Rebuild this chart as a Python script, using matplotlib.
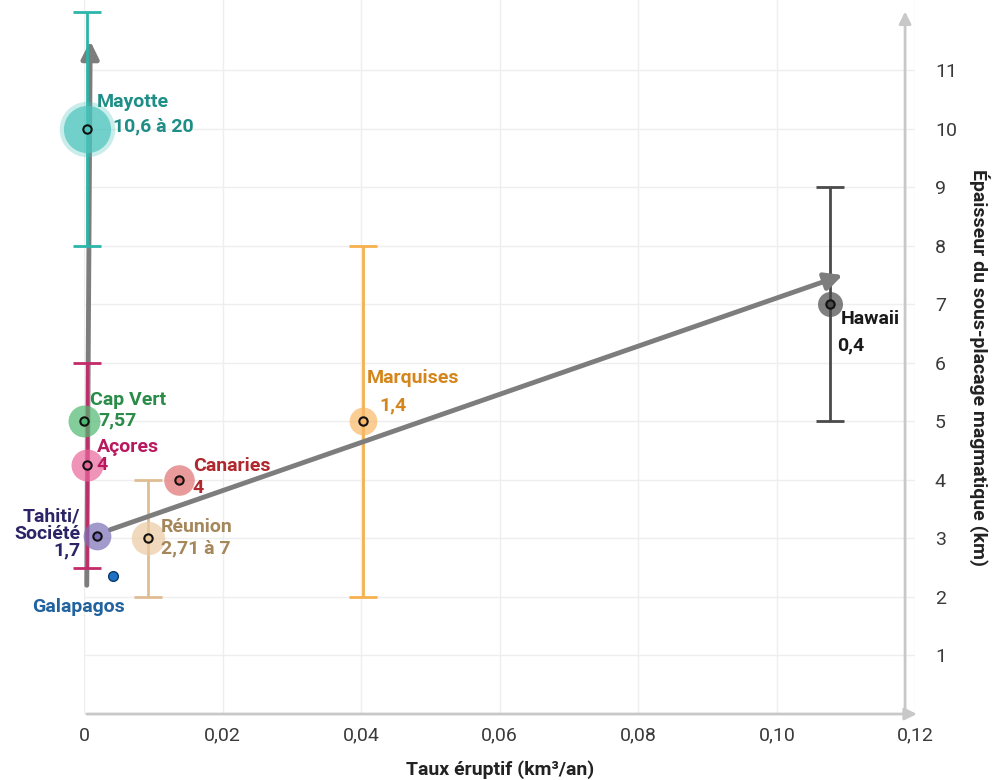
import matplotlib
matplotlib.use("Agg")
import matplotlib.pyplot as plt

# data
names = ["Mayotte", "Cap Vert", "Açores", "Canaries", "Tahiti/\nSociété", "Réunion", "Galapagos", "Marquises", "Hawaii"]
values = ["10,6 à 20", "7,57", "4", "4", "1,7", "2,71 à 7", "", "1,4", "0,4"]
rate = [0.0004, 0.0, 0.0004, 0.0137, 0.0019, 0.0092, 0.0042, 0.0403, 0.1076]
thickness = [10.0, 5.0, 4.25, 4.0, 3.05, 3.0, 2.36, 5.0, 7.0]
err_low = [8.0, None, 2.5, None, None, 2.0, None, 2.0, 5.0]
err_high = [12.0, None, 6.0, None, None, 4.0, None, 8.0, 9.0]

xticks = [0, 0.02, 0.04, 0.06, 0.08, 0.10, 0.12]
xticklabels = ["0", "0,02", "0,04", "0,06", "0,08", "0,10", "0,12"]
yticks = list(range(1, 12))

# trend arrows (start, end)
arrow_vert = [(0.0004, 2.2), (0.0009, 11.5)]
arrow_diag = [(0.0038, 3.15), (0.1095, 7.5)]

# styles
text_col = ["#1e8e86", "#2a8c48", "#b8195e", "#b0282d", "#2b2466", "#a5875c", "#22639f", "#d4861c", "#1a1a1a"]
halo_col = ["#4cc4bb", "#4db870", "#e9669a", "#e07070", "#7a70b6", "#ebcaa0", "#1f72c4", "#f8b866", "#4a4a4a"]
bar_col = ["#2bb5ab", None, "#c42a6a", None, None, "#dfbd92", None, "#f6b04e", "#4a4a4a"]
bar_z = [4.5, 0, 4.5, 0, 0, 3, 0, 3, 3]
halo_size = [34, 23, 23, 22, 20, 24, 0, 20, 18]
# label offsets in pixels: (name dx, name dy, value dx, value dy)
offs = [(10, 27, 26, 2), (6, 21, 14, 1), (10, 18, 10, 0), (14, 14, 14, -8),
        (-17, 2, 0, 0), (13, 11, 13, -10), (-35, -31, 0, 0), (4, 43, 16, 16),
        (11, -15, 8, -41)]

font = ["Roboto", "DejaVu Sans"]

fig = plt.figure(figsize=(9.94, 7.8), dpi=100)
ax = fig.add_axes([0.0845, 0.0846, 0.8365, 0.9154])
ax.set_xlim(0, 0.12)
ax.set_ylim(0, 12.2)

for s in ax.spines.values():
    s.set_visible(False)

ax.set_xticks(xticks)
ax.set_xticklabels(xticklabels)
ax.set_yticks(yticks)
ax.yaxis.tick_right()
ax.tick_params(axis="both", length=0, labelsize=14, labelcolor="#3a3a3a")
ax.tick_params(axis="x", pad=9)
ax.tick_params(axis="y", pad=14)
for lab in ax.get_xticklabels() + ax.get_yticklabels():
    lab.set_family(font)
ax.grid(True, color="#eeeeee", lw=1)
ax.set_axisbelow(True)

# axis arrows
ax.annotate("", xy=(0.1206, 0), xytext=(0, 0),
            arrowprops=dict(arrowstyle="-|>", color="#c8c8c8", lw=2, mutation_scale=18),
            annotation_clip=False)
ax.annotate("", xy=(0.1185, 12.05), xytext=(0.1185, 0),
            arrowprops=dict(arrowstyle="-|>", color="#c8c8c8", lw=2, mutation_scale=18),
            annotation_clip=False)

ax.text(0.5, -0.078, "Taux éruptif (km³/an)", transform=ax.transAxes, ha="center", va="center",
        fontsize=14, fontweight="bold", color="#222222", family=font)
ax.text(1.077, 0.485, "Épaisseur du sous-placage magmatique (km)", transform=ax.transAxes,
        ha="center", va="center", rotation=-90, fontsize=14, fontweight="bold", color="#222222",
        family=font)

# error bars
for i in range(len(names)):
    if err_low[i] is None:
        continue
    y = thickness[i]
    ax.errorbar(rate[i], y, yerr=[[y - err_low[i]], [err_high[i] - y]], fmt="none",
                ecolor=bar_col[i], elinewidth=2, capsize=10, capthick=2, zorder=bar_z[i], clip_on=False)

# gray trend arrows
for (x0, y0), (x1, y1) in [arrow_vert, arrow_diag]:
    ax.annotate("", xy=(x1, y1), xytext=(x0, y0),
                arrowprops=dict(arrowstyle="-|>", color="#7d7d7d", lw=3.5, mutation_scale=26,
                                shrinkA=0, shrinkB=0),
                zorder=4, annotation_clip=False)

# halos and points
for i in range(len(names)):
    if halo_size[i] > 0:
        if i == 0:
            ax.plot(rate[i], thickness[i], "o", ms=halo_size[i] + 6, color=halo_col[i], alpha=0.3,
                    mec="none", zorder=5, clip_on=False)
        ax.plot(rate[i], thickness[i], "o", ms=halo_size[i], color=halo_col[i], alpha=0.7,
                mec="none", zorder=5, clip_on=False)
        ax.plot(rate[i], thickness[i], "o", ms=6, mfc=halo_col[i], mec="#111111", mew=1.5,
                zorder=6, clip_on=False)
    else:
        ax.plot(rate[i], thickness[i], "o", ms=7, mfc=halo_col[i], mec="#0d3a66", mew=1,
                zorder=6, clip_on=False)

# labels
for i in range(len(names)):
    ndx, ndy, vdx, vdy = offs[i]
    ha = "right" if ndx < 0 else "left"
    if names[i] == "Galapagos":
        ha = "center"
    if "\n" in names[i]:
        ax.annotate(names[i] + "\n" + values[i], (rate[i], thickness[i]), xytext=(ndx, ndy),
                    textcoords="offset pixels", ha="right", va="center", fontsize=14,
                    fontweight="bold", color=text_col[i], family=font, linespacing=0.95,
                    annotation_clip=False, zorder=7)
        continue
    ax.annotate(names[i], (rate[i], thickness[i]), xytext=(ndx, ndy), textcoords="offset pixels",
                ha=ha, va="center", fontsize=14, fontweight="bold", color=text_col[i],
                family=font, annotation_clip=False, zorder=7)
    if values[i]:
        ax.annotate(values[i], (rate[i], thickness[i]), xytext=(vdx, vdy), textcoords="offset pixels",
                    ha="left", va="center", fontsize=14, fontweight="bold", color=text_col[i],
                    family=font, annotation_clip=False, zorder=7)

fig.savefig("out.png", dpi=100)
